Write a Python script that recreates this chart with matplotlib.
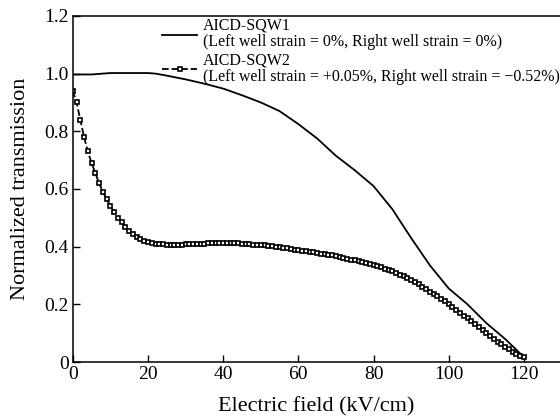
import numpy as np
import matplotlib
matplotlib.use("Agg")
import matplotlib.pyplot as plt

plt.rcParams['font.family'] = ['Liberation Serif', 'DejaVu Serif']

# SQW1: solid curve
field1 = [0, 5, 8, 10, 15, 20, 22, 25, 30, 35, 40, 45, 50, 55, 60, 65, 70,
          75, 80, 85, 90, 95, 100, 105, 110, 115, 120]
trans1 = [0.997, 0.997, 1.0, 1.002, 1.002, 1.002, 1.0, 0.993, 0.98, 0.965,
          0.948, 0.925, 0.90, 0.87, 0.825, 0.775, 0.715, 0.665, 0.61, 0.53,
          0.43, 0.335, 0.255, 0.20, 0.135, 0.08, 0.017]

# SQW2: dashed curve with markers, one point per kV/cm
field2 = np.arange(0, 121, 1)
trans2 = [0.94, 0.90, 0.84, 0.78, 0.73, 0.69, 0.655, 0.62, 0.59, 0.565,
          0.54, 0.52, 0.50, 0.485, 0.468, 0.455, 0.443, 0.434, 0.426, 0.420,
          0.416, 0.413, 0.410, 0.409, 0.408, 0.407, 0.407, 0.407, 0.407, 0.407,
          0.408, 0.408, 0.409, 0.409, 0.410, 0.410, 0.411, 0.411, 0.412, 0.412,
          0.413, 0.413, 0.413, 0.412, 0.411, 0.410, 0.409, 0.408, 0.407, 0.406,
          0.405, 0.404, 0.403, 0.401, 0.400, 0.398, 0.396, 0.394, 0.392, 0.390,
          0.388, 0.386, 0.384, 0.382, 0.380, 0.378, 0.376, 0.374, 0.372, 0.370,
          0.367, 0.364, 0.361, 0.358, 0.355, 0.352, 0.349, 0.346, 0.343, 0.340,
          0.337, 0.333, 0.329, 0.324, 0.319, 0.314, 0.309, 0.303, 0.297, 0.291,
          0.284, 0.277, 0.269, 0.260, 0.252, 0.244, 0.236, 0.228, 0.220, 0.210,
          0.200, 0.190, 0.181, 0.171, 0.161, 0.151, 0.141, 0.131, 0.121, 0.111,
          0.101, 0.091, 0.081, 0.071, 0.062, 0.053, 0.044, 0.036, 0.028, 0.021,
          0.016]

labels = ["AICD-SQW1\n(Left well strain = 0%, Right well strain = 0%)",
          "AICD-SQW2\n(Left well strain = +0.05%, Right well strain = \u22120.52%)"]
xticks = [0, 20, 40, 60, 80, 100, 120]
yticks = [0, 0.2, 0.4, 0.6, 0.8, 1.0, 1.2]
yticklabels = ["0", "0.2", "0.4", "0.6", "0.8", "1.0", "1.2"]

fig = plt.figure(figsize=(5.6, 4.19), dpi=100)
ax = fig.add_axes([0.130, 0.136, 0.870, 0.826])

ax.plot(field1, trans1, c='black', lw=1.3, label=labels[0])
ax.plot(field2, trans2, c='black', lw=1.3, ls='--', marker='s', ms=3.2,
        mfc='white', mec='black', mew=1.2, label=labels[1])

ax.set_xlim(0, 129.6)
ax.set_ylim(0, 1.2)
ax.set_xticks(xticks)
ax.set_yticks(yticks)
ax.set_yticklabels(yticklabels)
ax.tick_params(direction='in', length=5, width=1, labelsize=14, pad=3)
ax.spines['right'].set_visible(False)
for s in ['left', 'bottom', 'top']:
    ax.spines[s].set_linewidth(1.1)

ax.set_xlabel("Electric field (kV/cm)", fontsize=16, labelpad=10)
ax.set_ylabel("Normalized transmission", fontsize=16, labelpad=10)

leg = ax.legend(loc='upper left', bbox_to_anchor=(0.17, 1.013), frameon=False,
                fontsize=11.5, handlelength=2.2, handletextpad=0.35,
                labelspacing=0.1, borderaxespad=0, numpoints=1)
for t in leg.get_texts():
    t.set_linespacing(1.05)

fig.savefig("out.png", dpi=100)
